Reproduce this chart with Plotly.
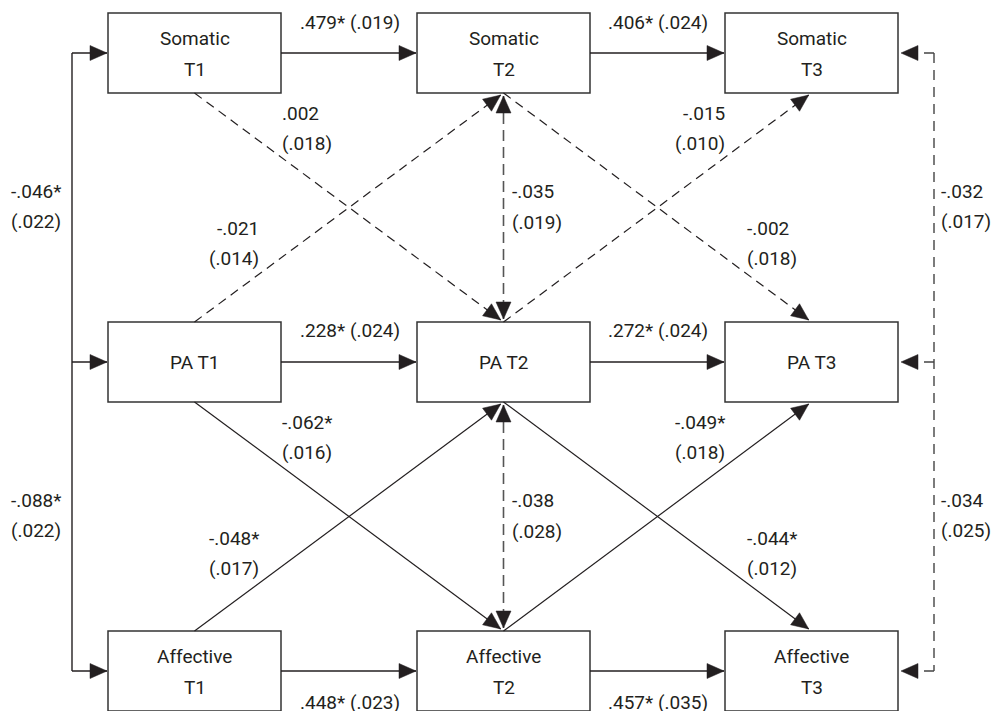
import math
import plotly.graph_objects as go

# ---------------- data ----------------
constructs = ["Somatic", "PA", "Affective"]
waves = ["T1", "T2", "T3"]
box_lines = {
    "Somatic": ["Somatic", "{w}"],
    "PA": ["PA {w}"],
    "Affective": ["Affective", "{w}"],
}

# autoregressive (stability) paths
stability_construct = ["Somatic", "Somatic", "PA", "PA", "Affective", "Affective"]
stability_from = [0, 1, 0, 1, 0, 1]
stability_est = [".479*", ".406*", ".228*", ".272*", ".448*", ".457*"]
stability_se = ["(.019)", "(.024)", "(.024)", "(.024)", "(.023)", "(.035)"]

# cross-lagged paths
cross_from = ["Somatic", "Somatic", "PA", "PA", "PA", "PA", "Affective", "Affective"]
cross_from_wave = [0, 1, 0, 1, 0, 1, 0, 1]
cross_to = ["PA", "PA", "Somatic", "Somatic", "Affective", "Affective", "PA", "PA"]
cross_est = [".002", "-.002", "-.021", "-.015", "-.062*", "-.044*", "-.048*", "-.049*"]
cross_se = ["(.018)", "(.018)", "(.014)", "(.010)", "(.016)", "(.012)", "(.017)", "(.018)"]
cross_sig = [False, False, False, False, True, True, True, True]

# within-time T2 residual covariances (vertical, double-headed)
t2_pairs = [("Somatic", "PA"), ("PA", "Affective")]
t2_est = ["-.035", "-.038"]
t2_se = ["(.019)", "(.028)"]

# T1 correlations (left bracket) and T3 residual covariances (right bracket)
t1_est = ["-.046*", "-.088*"]
t1_se = ["(.022)", "(.022)"]
t3_est = ["-.032", "-.034"]
t3_se = ["(.017)", "(.025)"]

# ---------------- layout geometry ----------------
PAGE_W, PAGE_H = 1001, 711
OFF = 8  # page body margin compensation
W, H = PAGE_W - OFF, PAGE_H - OFF
col_left = [108, 417, 725]
row_top = [13, 322, 631]
BW, BH = 173, 80
INK = "#231f20"
FONT = "Roboto"
FS = 19
AL, AW = 17, 7.5  # arrowhead length / half-width

def cx(c):
    return col_left[c] + BW / 2

def cy(r):
    return row_top[r] + BH / 2

shapes = []
annotations = []

def add_text(x, y, t, anchor="center"):
    annotations.append(dict(x=x, y=y, xref="x", yref="y", text=t, showarrow=False,
                            xanchor=anchor, yanchor="middle",
                            font=dict(family=FONT, size=FS, color=INK)))

def line(x0, y0, x1, y1, dash="solid", color=INK, width=1.3):
    shapes.append(dict(type="line", x0=x0, y0=y0, x1=x1, y1=y1, xref="x", yref="y",
                       line=dict(color=color, width=width, dash=dash), layer="above"))

def head(tx, ty, fx, fy):
    dx, dy = tx - fx, ty - fy
    n = math.hypot(dx, dy)
    ux, uy = dx / n, dy / n
    bx, by = tx - ux * AL, ty - uy * AL
    px, py = -uy, ux
    p = (f"M {tx:.2f},{ty:.2f} L {bx + px * AW:.2f},{by + py * AW:.2f} "
         f"L {bx - px * AW:.2f},{by - py * AW:.2f} Z")
    shapes.append(dict(type="path", path=p, xref="x", yref="y",
                       fillcolor=INK, line=dict(color=INK, width=0.5), layer="above"))

def arrow(x0, y0, x1, y1, dash="solid", color=INK, width=1.3, both=False):
    line(x0, y0, x1, y1, dash, color, width)
    head(x1, y1, x0, y0)
    if both:
        head(x0, y0, x1, y1)

# boxes
for r, c_name in enumerate(constructs):
    for c, w in enumerate(waves):
        shapes.append(dict(type="rect", x0=col_left[c], y0=row_top[r],
                           x1=col_left[c] + BW, y1=row_top[r] + BH, xref="x", yref="y",
                           line=dict(color="#333333", width=1.5), fillcolor="white", layer="below"))
        lines = [s.format(w=w) for s in box_lines[c_name]]
        if len(lines) == 1:
            add_text(cx(c), cy(r), lines[0])
        else:
            add_text(cx(c), cy(r) - 15, lines[0])
            add_text(cx(c), cy(r) + 16, lines[1])

# stability paths
stab_label_y = {"Somatic": 22, "PA": 330, "Affective": 702}
for cn, f, e, s in zip(stability_construct, stability_from, stability_est, stability_se):
    r = constructs.index(cn)
    x0 = col_left[f] + BW
    x1 = col_left[f + 1] - 1
    arrow(x0, cy(r), x1, cy(r))
    add_text((x0 + x1) / 2 + 1, stab_label_y[cn], f"{e} {s}")

# cross-lagged paths
cross_label_pos = {
    ("Somatic", 0): (280, 113, "left"),
    ("Somatic", 1): (745, 228, "left"),
    ("PA", 0, "Somatic"): (261, 228, "right"),
    ("PA", 1, "Somatic"): (727, 113, "right"),
    ("PA", 0, "Affective"): (280, 422, "left"),
    ("PA", 1, "Affective"): (745, 538, "left"),
    ("Affective", 0): (261, 538, "right"),
    ("Affective", 1): (727, 422, "right"),
}
for fc, fw, tc, e, s, sig in zip(cross_from, cross_from_wave, cross_to, cross_est, cross_se, cross_sig):
    rf, rt = constructs.index(fc), constructs.index(tc)
    down = rt > rf
    x0 = cx(fw)
    y0 = row_top[rf] + BH if down else row_top[rf]
    x1 = cx(fw + 1)
    y1 = row_top[rt] if down else row_top[rt] + BH
    dx, dy = x1 - x0, y1 - y0
    n = math.hypot(dx, dy)
    tx, ty = x1 - dx / n * 3.5, y1 - dy / n * 3.5
    arrow(x0, y0, tx, ty, dash="solid" if sig else "9px,6px", width=1.2)
    key = (fc, fw, tc) if fc == "PA" else (fc, fw)
    lx, ly, anc = cross_label_pos[key]
    add_text(lx, ly, e, anc)
    add_text(lx, ly + 30, s, anc)

# T2 residual covariances
t2_label_y = [191, 500]
for (a, b), e, s, ly in zip(t2_pairs, t2_est, t2_se, t2_label_y):
    ra, rb = constructs.index(a), constructs.index(b)
    x = cx(1)
    arrow(x, row_top[ra] + BH + 3, x, row_top[rb] - 3, dash="11px,6px",
          color="#555555", width=1.6, both=True)
    add_text(510, ly, e, "left")
    add_text(510, ly + 31, s, "left")

# left bracket (T1 correlations)
LX = 72
line(LX, cy(0), LX, cy(2), width=1.4)
for r in range(3):
    arrow(LX, cy(r), col_left[0] - 1, cy(r), width=1.4)
for e, s, ly in zip(t1_est, t1_se, [191, 500]):
    add_text(63, ly, e, "right")
    add_text(63, ly + 30, s, "right")

# right bracket (T3 residual covariances)
RX = 934
line(RX, cy(0), RX, cy(2), dash="10px,7px", color="#444444", width=1.4)
for r in range(3):
    arrow(RX, cy(r), col_left[2] + BW + 3, cy(r), dash="10px,7px", color="#444444", width=1.4)
for e, s, ly in zip(t3_est, t3_se, [191, 500]):
    add_text(939, ly, e, "left")
    add_text(939, ly + 30, s, "left")

fig = go.Figure()
fig.add_trace(go.Scatter(x=[OFF, PAGE_W], y=[OFF, OFF + H], mode="markers",
                         marker=dict(opacity=0), hoverinfo="skip", showlegend=False))
fig.update_layout(
    width=W, height=H,
    margin=dict(l=0, r=0, t=0, b=0),
    paper_bgcolor="white", plot_bgcolor="white",
    xaxis=dict(range=[OFF, PAGE_W], visible=False, fixedrange=True),
    yaxis=dict(range=[OFF + H, OFF], visible=False, fixedrange=True),
    shapes=shapes, annotations=annotations, showlegend=False,
)
fig.write_html("out.html")
